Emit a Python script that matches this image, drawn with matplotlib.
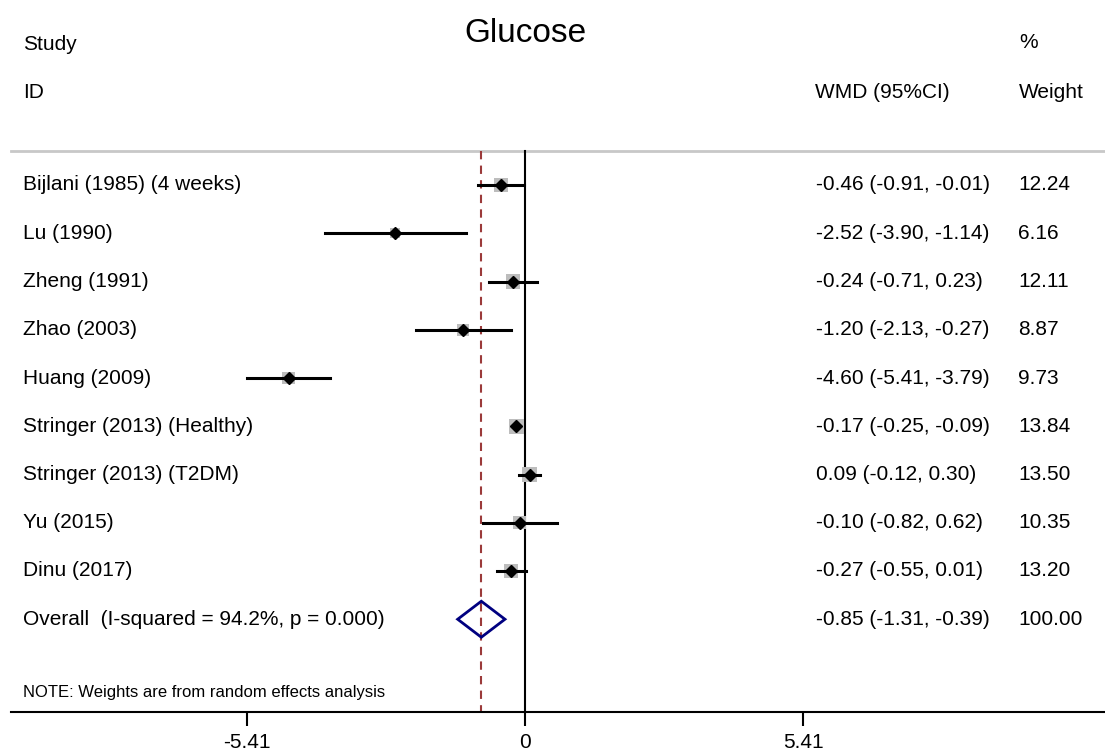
import matplotlib.pyplot as plt
import matplotlib.transforms as mtransforms
from matplotlib.patches import Rectangle, Polygon
import numpy as np

plt.rcParams['font.family'] = ['Liberation Sans', 'DejaVu Sans']

# study-level results (weighted mean difference, 95% CI, % weight)
studies = ["Bijlani (1985) (4 weeks)", "Lu (1990)", "Zheng (1991)", "Zhao (2003)",
           "Huang (2009)", "Stringer (2013) (Healthy)", "Stringer (2013) (T2DM)",
           "Yu (2015)", "Dinu (2017)"]
wmd = [-0.46, -2.52, -0.24, -1.20, -4.60, -0.17, 0.09, -0.10, -0.27]
lower = [-0.91, -3.90, -0.71, -2.13, -5.41, -0.25, -0.12, -0.82, -0.55]
upper = [-0.01, -1.14, 0.23, -0.27, -3.79, -0.09, 0.30, 0.62, 0.01]
weights = [12.24, 6.16, 12.11, 8.87, 9.73, 13.84, 13.50, 10.35, 13.20]

overall_label = "Overall  (I-squared = 94.2%, p = 0.000)"
overall = -0.85
overall_lo = -1.31
overall_hi = -0.39
overall_weight = 100.00

xticks = [-5.41, 0, 5.41]

W, H = 1105, 752
fig = plt.figure(figsize=(W / 100, H / 100), dpi=100)
ax = fig.add_axes([0, 0, 1, 1])

# x in effect units, y in pixel rows from the top
px_per_unit = 51.4
x_zero = 525
ax.set_xlim(-x_zero / px_per_unit, (W - x_zero) / px_per_unit)
ax.set_ylim(H, 0)

row_y = [185 + 48.25 * i for i in range(len(studies) + 1)]
axis_y = 712
top_y = 151

fs = 15
trans = mtransforms.blended_transform_factory(fig.transFigure, ax.transData)
def fx(p):
    return p / W

# header
ax.text(fx(525), 33, "Glucose", transform=trans, ha='center', va='center',
        fontsize=24)
ax.text(fx(23), 45, "Study", transform=trans, va='center', fontsize=fs)
ax.text(fx(23), 93, "ID", transform=trans, va='center', fontsize=fs)
ax.text(fx(1019), 43, "%", transform=trans, va='center', fontsize=fs)
ax.text(fx(815), 93, "WMD (95%CI)", transform=trans, va='center', fontsize=fs)
ax.text(fx(1019), 93, "Weight", transform=trans, va='center', fontsize=fs)
ax.axhline(top_y, color='#c8c8c8', lw=2, xmin=fx(11))

# reference lines
ax.plot([0, 0], [top_y, axis_y], color='black', lw=1.5)
ax.plot([overall, overall], [top_y, axis_y], color='#9b3a3a', lw=1.5,
        ls=(0, (4, 3)))

# study rows
for i, name in enumerate(studies):
    y = row_y[i]
    side = 4.03 * np.sqrt(weights[i])
    ax.add_patch(Rectangle((wmd[i] - side / 2 / px_per_unit, y - side / 2),
                           side / px_per_unit, side, color='#bdbdbd', lw=0,
                           zorder=2))
    ax.plot([lower[i], upper[i]], [y, y], color='black', lw=2.2, zorder=3)
    ax.plot(wmd[i], y, marker='D', color='black', ms=6, zorder=4)
    ax.text(fx(23), y, name, transform=trans, va='center', fontsize=fs)
    ax.text(fx(816), y, "%.2f (%.2f, %.2f)" % (wmd[i], lower[i], upper[i]),
            transform=trans, va='center', fontsize=fs)
    ax.text(fx(1018), y, "%.2f" % weights[i], transform=trans, va='center',
            fontsize=fs)

# pooled estimate
y = row_y[-1]
half_h = 18
ax.add_patch(Polygon([(overall_lo, y), (overall, y - half_h), (overall_hi, y),
                      (overall, y + half_h)], closed=True, fill=False,
                     edgecolor='#000080', lw=2, zorder=5))
ax.text(fx(23), y, overall_label, transform=trans, va='center', fontsize=fs)
ax.text(fx(816), y, "%.2f (%.2f, %.2f)" % (overall, overall_lo, overall_hi),
        transform=trans, va='center', fontsize=fs)
ax.text(fx(1018), y, "%.2f" % overall_weight, transform=trans, va='center',
        fontsize=fs)

ax.text(fx(23), 692, "NOTE: Weights are from random effects analysis",
        transform=trans, va='center', fontsize=12)

# bottom axis
for s in ['top', 'right', 'left']:
    ax.spines[s].set_visible(False)
ax.spines['bottom'].set_position(('data', axis_y))
ax.spines['bottom'].set_linewidth(1.5)
ax.spines['bottom'].set_bounds((11 - x_zero) / px_per_unit, (W - x_zero) / px_per_unit)
ax.set_xticks(xticks)
ax.set_xticklabels(["%g" % t for t in xticks], fontsize=15)
ax.tick_params(axis='x', direction='out', length=10, width=1.5, pad=5)
ax.set_yticks([])

fig.savefig("out.png", dpi=100)
